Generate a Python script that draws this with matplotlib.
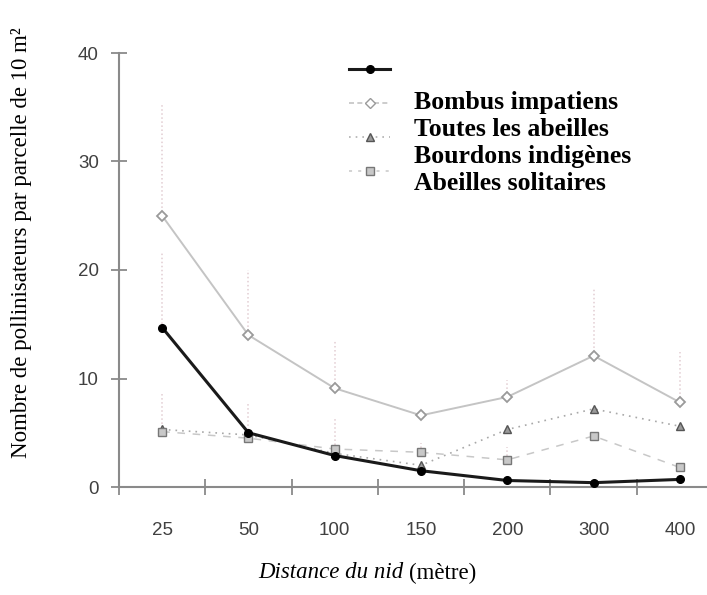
import numpy as np
import matplotlib
matplotlib.use("Agg")
import matplotlib.pyplot as plt
from matplotlib.lines import Line2D

# data
distances = ["25", "50", "100", "150", "200", "300", "400"]
bombus = [14.7, 5.0, 2.9, 1.5, 0.6, 0.4, 0.7]
toutes = [25.0, 14.0, 9.1, 6.6, 8.3, 12.1, 7.8]
bourdons = [5.3, 4.8, 3.1, 2.0, 5.3, 7.2, 5.6]
solitaires = [5.1, 4.5, 3.5, 3.2, 2.5, 4.7, 1.8]

# upper ends of the (dotted) error bars
toutes_top = [35.4, 20.0, 13.5, 6.6, 9.9, 18.3, 12.4]
bombus_top = [21.6, 5.0, 2.9, 1.5, 0.6, 0.4, 0.7]
solitaires_top = [8.6, 7.7, 6.4, 4.1, 3.7, 4.7, 1.8]

labels = ["Bombus impatiens", "Toutes les abeilles",
          "Bourdons indigènes", "Abeilles solitaires"]

W, H = 707, 595
fig = plt.figure(figsize=(W / 100, H / 100), dpi=100)
ax = fig.add_axes([119 / W, 108 / H, (723 - 119) / W, 434 / H])

x = np.arange(len(distances))
errc = "#e2cdd2"

# error bars (upper only)
ax.vlines(x, toutes, toutes_top, colors=errc, linestyles=":", lw=1.1, zorder=1)
ax.vlines(x, bombus, bombus_top, colors=errc, linestyles=":", lw=1.1, zorder=1)
ax.vlines(x, solitaires, solitaires_top, colors=errc, linestyles=":", lw=1.1, zorder=1)

styles = [
    dict(color="#1a1a1a", lw=2.2, ls="-", marker="o", ms=5.5, mfc="black", mec="black"),
    dict(color="#c4c4c4", lw=1.4, ls="-", marker="D", ms=5, mfc="white", mec="#9a9a9a", mew=1.3),
    dict(color="#a8a8a8", lw=1.2, ls=(0, (1, 3)), marker="^", ms=6, mfc="#9a9a9a", mec="#555555"),
    dict(color="#c8c8c8", lw=1.1, ls=(0, (5, 5)), marker="s", ms=5.5, mfc="#c8c8c8", mec="#777777"),
]
series = [bombus, toutes, bourdons, solitaires]
zs = [5, 4, 3, 3]
for s, st, z in zip(series, styles, zs):
    ax.plot(x, s, zorder=z, clip_on=False, **st)

# axes
ax.set_xlim(-0.5, 6.5)
ax.set_ylim(0, 40)
for sp in ["top", "right"]:
    ax.spines[sp].set_visible(False)
for sp in ["left", "bottom"]:
    ax.spines[sp].set_color("#8a8a8a")
    ax.spines[sp].set_linewidth(1.5)

ax.set_yticks([0, 10, 20, 30, 40])
ax.set_xticks(x)
ax.set_xticklabels(distances)
ax.set_xticks(np.arange(-0.5, 7.0, 1.0), minor=True)
ax.tick_params(axis="y", direction="inout", length=11, width=1.3, color="#8a8a8a",
               pad=9, labelsize=13.5, labelcolor="#404040")
ax.tick_params(axis="x", which="major", length=0, pad=25, labelsize=13.5, labelcolor="#404040")
ax.tick_params(axis="x", which="minor", direction="inout", length=12, width=1.3, color="#8a8a8a")
for lab in ax.get_xticklabels() + ax.get_yticklabels():
    lab.set_family("Liberation Sans")

# axis titles
fig.text(22 / W, 1 - 243 / H, "Nombre de pollinisateurs par parcelle de 10 m²",
         rotation=90, ha="center", va="center", family="Liberation Serif", fontsize=16.5)
fig.text(404 / W, 1 - 573 / H, "Distance du nid", style="italic", ha="right", va="center",
         family="Liberation Serif", fontsize=16.5)
fig.text(409 / W, 1 - 573 / H, "(mètre)", ha="left", va="center",
         family="Liberation Serif", fontsize=16.5)

# legend: handles and texts are not aligned in the original
leg_styles = [
    dict(color="#1a1a1a", lw=2.2, ls="-", marker="o", ms=5.5, mfc="black", mec="black"),
    dict(color="#c4c4c4", lw=1.2, ls=(0, (3, 2)), marker="D", ms=5, mfc="white", mec="#9a9a9a", mew=1.3),
    dict(color="#b0b0b0", lw=1.2, ls=(0, (1, 3)), marker="^", ms=5.5, mfc="#9a9a9a", mec="#555555"),
    dict(color="#c8c8c8", lw=1.1, ls=(0, (2, 4)), marker="s", ms=5.5, mfc="#c8c8c8", mec="#777777"),
]
hy0, hdy = 69, 34
ty0, tdy = 102, 27
for i, (lab, st) in enumerate(zip(labels, leg_styles)):
    yh = 1 - (hy0 + i * hdy) / H
    fig.add_artist(Line2D([349 / W, 390 / W], [yh, yh], transform=fig.transFigure,
                          color=st["color"], lw=st["lw"], ls=st["ls"]))
    fig.add_artist(Line2D([370 / W], [yh], transform=fig.transFigure, ls="none",
                          marker=st["marker"], ms=st["ms"], mfc=st["mfc"], mec=st["mec"]))
    fig.text(414 / W, 1 - (ty0 + i * tdy) / H, lab, ha="left", va="center",
             family="Liberation Serif", weight="bold", fontsize=18.5)

fig.savefig("out.png", dpi=100)
